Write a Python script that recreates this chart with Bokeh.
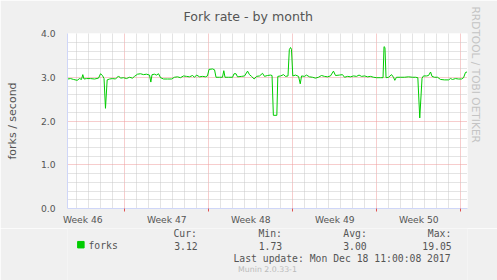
from bokeh.plotting import figure
from bokeh.layouts import column
from bokeh.models import Range1d, FixedTicker, PrintfTickFormatter, ColumnDataSource, Title
from bokeh.core.properties import value
from bokeh.embed import file_html
from bokeh.resources import INLINE

# ---- data (x: days since Mon Nov 13 2017 00:00, y: forks/second) ----
days = [2.23, 2.48, 2.73, 3.03, 3.23, 3.39, 3.50, 3.60, 3.81, 4.14, 4.48, 4.81, 4.98, 5.14, 5.27, 5.39,
        5.53, 5.73, 5.98, 6.23, 6.48, 6.64, 6.89, 7.14, 7.39, 7.64, 7.81, 8.06, 8.31, 8.56, 8.81, 9.06,
        9.17, 9.27, 9.48, 9.64, 9.81, 9.98, 10.23, 10.56, 10.89, 11.14, 11.39, 11.64, 11.89, 12.14, 12.39,
        12.64, 12.81, 12.98, 13.23, 13.48, 13.73, 13.89, 14.02, 14.31, 14.48, 14.60, 14.89, 15.14, 15.25,
        15.35, 15.64, 15.98, 16.10, 16.27, 16.39, 16.73, 16.98, 17.23, 17.39, 17.56, 17.78, 17.98, 18.23,
        18.48, 18.64, 18.89, 19.14, 19.27, 19.38, 19.67, 19.75, 19.98, 20.23, 20.39, 20.60, 20.71, 20.81,
        20.89, 21.00, 21.23, 21.48, 21.62, 21.73, 21.98, 22.14, 22.39, 22.64, 22.89, 23.14, 23.39, 23.64,
        23.89, 24.14, 24.39, 24.56, 24.89, 25.14, 25.31, 25.56, 25.81, 26.06, 26.31, 26.52, 26.73, 26.98,
        27.23, 27.48, 27.73, 27.98, 28.31, 28.52, 28.60, 28.68, 28.77, 28.98, 29.23, 29.39, 29.50, 29.64,
        29.98, 30.31, 30.64, 30.98, 31.23, 31.42, 31.58, 31.77, 31.89, 32.14, 32.31, 32.48, 32.60, 32.81,
        33.06, 33.31, 33.64, 33.98, 34.14, 34.31, 34.56, 34.81, 35.06, 35.23, 35.39, 35.52]
forks = [2.96, 2.97, 2.95, 2.93, 2.97, 2.95, 3.06, 2.96, 2.97, 2.97, 2.96, 2.98, 3.08, 3.04, 2.97, 2.29,
         2.94, 2.96, 2.97, 2.96, 3.03, 2.98, 2.99, 2.97, 3.00, 2.98, 3.02, 3.07, 3.08, 3.06, 3.07, 3.05,
         2.89, 3.06, 3.07, 3.05, 3.08, 2.99, 2.96, 2.96, 2.96, 3.00, 3.01, 2.99, 3.03, 3.02, 3.01,
         3.04, 3.00, 3.05, 3.01, 3.02, 3.01, 3.03, 3.18, 3.19, 3.17, 3.00, 3.00, 3.00, 3.15,
         3.00, 3.00, 3.00, 3.08, 3.08, 3.01, 3.02, 3.03, 3.14, 3.06, 3.02, 2.96, 3.02, 3.03,
         3.09, 3.02, 3.04, 3.05, 3.04, 2.13, 2.13, 3.02, 3.03, 3.06, 3.02, 3.03, 3.63, 3.68,
         3.64, 3.03, 3.05, 3.02, 2.85, 3.03, 3.02, 3.05, 3.01, 3.00, 2.98, 3.00, 3.04, 3.02,
         3.01, 3.03, 3.14, 3.04, 3.05, 3.06, 3.00, 3.02, 3.01, 3.03, 3.02, 3.05, 3.02, 3.03,
         3.01, 3.02, 3.00, 2.99, 2.99, 2.99, 3.70, 3.68, 2.99, 3.00, 3.06, 3.00, 2.93, 3.00,
         3.00, 3.00, 3.01, 3.00, 3.00, 2.99, 2.07, 2.98, 3.03, 3.03, 3.04, 3.12, 3.02, 3.00,
         3.00, 2.95, 2.94, 2.94, 2.97, 2.95, 2.97, 2.96, 2.96, 2.99, 3.11, 3.12]

week_bounds = [7, 14, 21, 28, 35]
week_mids = [3.5, 10.5, 17.5, 24.5, 31.5]
week_labels = ["Week 46", "Week 47", "Week 48", "Week 49", "Week 50"]
y_major = [0, 1, 2, 3, 4]

stat_names = ["Cur:", "Min:", "Avg:", "Max:"]
stat_values = ["3.12", "1.73", "3.00", "19.05"]
series_name = "forks"
title_text = "Fork rate - by month"
y_title = "forks / second"
last_update = "Last update:  Mon Dec 18 11:00:08 2017"
footer = "Munin 2.0.33-1"
watermark = "RRDTOOL / TOBI OETIKER"

X_START, X_END = 2.225, 35.558
Y_MIN, Y_MAX = 0, 4

W = 497
H_MAIN, H_LEG = 228, 52
FL, FR, FT = 67, 30, 33
FB = H_MAIN - 208

BG = "#F0F0F0"
FONT_C = "#555555"
AXIS_C = "#CFD6F8"
MGRID = "#EE9A9A"
GRID = "#C8C8C8"
LINE_C = "#00CC00"
MONO = "DejaVu Sans Mono"
SANS = "DejaVu Sans"

p = figure(width=W, height=H_MAIN, x_range=Range1d(X_START, X_END), y_range=Range1d(Y_MIN, Y_MAX),
           output_backend="svg", toolbar_location=None, title=title_text,
           min_border_left=FL, min_border_right=FR, min_border_top=FT, min_border_bottom=FB,
           background_fill_color="white", border_fill_color=BG)
p.outline_line_color = None
p.title.align = "left"
p.title.vertical_align = "top"
p.title.offset = 116
p.title.standoff = 16
p.title.text_font = SANS
p.title.text_font_size = "12.6px"
p.title.text_font_style = "normal"
p.title.text_color = FONT_C

xa = p.below[0]
ya = p.left[0]

day_minor = [d for d in range(3, 36) if d not in week_bounds]
y_minor = [round(i * 0.2, 1) for i in range(1, 20) if i % 5 != 0]

# x axis
xa.ticker = FixedTicker(ticks=week_mids, minor_ticks=week_bounds)
xa.major_label_overrides = {m: l for m, l in zip(week_mids, week_labels)}
xa.major_tick_line_color = None
xa.major_tick_out = 0
xa.major_tick_in = 0
xa.minor_tick_line_color = "#E05050"
xa.minor_tick_in = 0
xa.minor_tick_out = 3
xa.axis_line_color = AXIS_C
xa.major_label_standoff = 2
xa.major_label_text_font = SANS
xa.major_label_text_font_size = "9.2px"
xa.major_label_text_color = FONT_C

# y axis
ya.ticker = FixedTicker(ticks=y_major, minor_ticks=y_minor)
ya.formatter = PrintfTickFormatter(format="%.1f")
ya.major_tick_line_color = None
ya.major_tick_out = 0
ya.major_tick_in = 0
ya.minor_tick_line_color = None
ya.axis_line_color = AXIS_C
ya.major_label_standoff = 8
ya.major_label_text_font = SANS
ya.major_label_text_font_size = "9.2px"
ya.major_label_text_color = FONT_C
ya.axis_label = y_title
ya.axis_label_text_font = SANS
ya.axis_label_text_font_size = "11px"
ya.axis_label_text_font_style = "normal"
ya.axis_label_text_color = FONT_C
ya.axis_label_standoff = 19

# grids
p.xgrid.ticker = FixedTicker(ticks=week_bounds, minor_ticks=day_minor)
p.ygrid.ticker = FixedTicker(ticks=y_major, minor_ticks=y_minor)
for g in (p.xgrid, p.ygrid):
    g.grid_line_color = MGRID
    g.grid_line_dash = "1 1"
    g.minor_grid_line_color = GRID
    g.minor_grid_line_dash = "1 1"

src = ColumnDataSource(dict(x=days, y=forks))
p.line("x", "y", source=src, line_color=LINE_C, line_width=1)

# vertical watermark on the right
p.add_layout(Title(text=watermark, align="left", offset=-27, standoff=4, text_font=SANS,
                   text_font_size="10.6px", text_font_style="normal", text_color="#C4C4C4"), "right")

# ---- legend panel (coordinates are pixels of the whole picture) ----
leg = figure(width=W, height=H_LEG, x_range=Range1d(0, W), y_range=Range1d(H_MAIN + H_LEG, H_MAIN),
             output_backend="svg", toolbar_location=None, x_axis_type=None, y_axis_type=None,
             min_border=0, background_fill_color=BG, border_fill_color=BG)
leg.outline_line_color = None
leg.grid.visible = False

FS = "9.75px"
stat_x = [131.7, 237.3, 342.7, 447.7]
val_right = [161.7, 266.7, 371.7, 477.3]
leg.scatter(x=[16.6], y=[244.2], marker="square", size=6.5, fill_color=LINE_C, line_color=LINE_C)
leg.text(x=[26], y=[245], text=[series_name], text_font=value(MONO), text_font_size=FS,
         text_color=FONT_C, text_baseline="middle", text_align="left")
leg.text(x=stat_x, y=[233] * 4, text=stat_names, text_font=value(MONO), text_font_size=FS,
         text_color=FONT_C, text_baseline="middle", text_align="left")
leg.text(x=val_right, y=[245] * 4, text=stat_values, text_font=value(MONO), text_font_size=FS,
         text_color=FONT_C, text_baseline="middle", text_align="right")
leg.text(x=[483.3], y=[257.5], text=[last_update], text_font=value(MONO), text_font_size=FS,
         text_color=FONT_C, text_baseline="middle", text_align="right")
leg.text(x=[248.5], y=[269.3], text=[footer], text_font=value(SANS), text_font_size="7.8px",
         text_color="#BBBBBB", text_baseline="middle", text_align="center")

layout = column(p, leg, spacing=0)
open("out.html", "w").write(file_html(layout, INLINE))
